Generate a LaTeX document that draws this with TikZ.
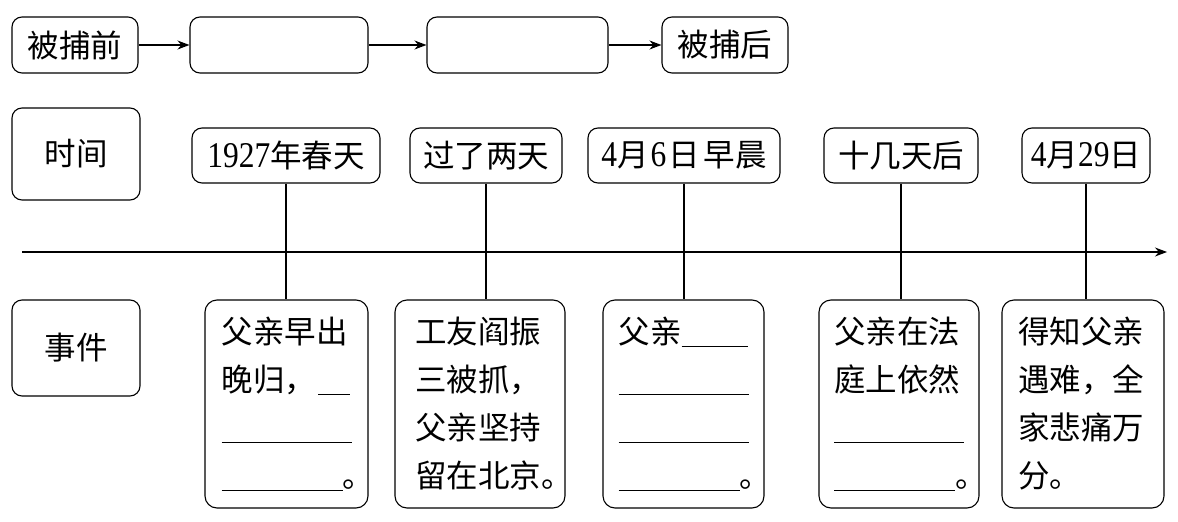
\documentclass[tikz,border=0pt]{standalone}
\usepackage{fontspec}
\setmainfont{Liberation Serif}
\newfontfamily\cjk{Noto Sans CJK SC}
\usetikzlibrary{arrows.meta}
\newcommand{\dg}[1]{{\rmfamily\scalebox{1}[1.15]{#1}}}
\newcommand{\blank}[1]{\rule[-4pt]{#1pt}{0.9pt}}

\begin{document}
\begin{tikzpicture}[x=1pt,y=-1pt,
    box/.style ={draw, line width=1.1pt, rounded corners=10pt, inner sep=0pt, minimum height=56pt, font=\cjk\fontsize{31.5}{48}\selectfont},
    eventbox/.style ={box, rounded corners=12pt, align=left, text width=130pt, minimum width=162pt, minimum height=208pt},
    link/.style ={line width=1.1pt},
    arr/.style ={line width=1.1pt, -{Stealth[length=12pt,width=9pt]}}]
   \useasboundingbox (0,0) rectangle (1178,522);
   % top row
   \node[box, minimum width=126pt] (before) at (75,45) {被捕前};
   \node[box, minimum width=178pt] (step1) at (279,45) {};
   \node[box, minimum width=181pt] (step2) at (517.5,45) {};
   \node[box, minimum width=126pt] (after) at (725,45) {被捕后};
   \draw[arr] (before) -- (step1);
   \draw[arr] (step1) -- (step2);
   \draw[arr] (step2) -- (after);
   % row labels
   \node[box, minimum width=128pt, minimum height=92pt] (time) at (76,154) {时间};
   \node[box, minimum width=128pt, minimum height=96pt] (event) at (76,348) {事件};
   % dates
   \node[box, minimum width=188pt, minimum height=55pt] (d1) at (286,155.5) {\dg{1927}年春天};
   \node[box, minimum width=152pt, minimum height=55pt] (d2) at (486,155.5) {过了两天};
   \node[box, minimum width=192pt, minimum height=55pt] (d3) at (684,155.5) {\dg{4}月\hspace{2pt}\dg{6}\hspace{2pt}日\hspace{4pt}早晨};
   \node[box, minimum width=154pt, minimum height=55pt] (d4) at (901,155.5) {十几天后};
   \node[box, minimum width=128pt, minimum height=55pt] (d5) at (1086,155.5) {\dg{4}月\dg{29}日};
   % time axis
   \coordinate (axl) at (22,252);
   \coordinate (axr) at (1167,252);
   \draw[arr] (axl) -- (axr);
   % events
   \node[eventbox, minimum width=163pt] (e1) at (286.5,404) {父亲早出\\晚归，\hspace{2pt}\blank{32}\\\blank{130}\\\blank{121}\rlap{。}};
   \node[eventbox, minimum width=170pt] (e2) at (480,404) {工友阎振\\三被抓，\\父亲坚持\\留在北京\rlap{。}};
   \node[eventbox, minimum width=161pt] (e3) at (683.5,404) {父亲\blank{66}\\\blank{130}\\\blank{130}\\\blank{121}\rlap{。}};
   \node[eventbox, minimum width=160pt] (e4) at (899,404) {父亲在法\\庭上依然\\\blank{130}\\\blank{121}\rlap{。}};
   \node[eventbox, minimum width=162pt] (e5) at (1083,404) {得知父亲\\遇难，全\\家悲痛万\\分。};
   \draw[link] (d1) -- (d1 |- e1.north);
   \draw[link] (d2) -- (d2 |- e2.north);
   \draw[link] (d3) -- (d3 |- e3.north);
   \draw[link] (d4) -- (d4 |- e4.north);
   \draw[link] (d5) -- (d5 |- e5.north);
\end{tikzpicture}
\end{document}
